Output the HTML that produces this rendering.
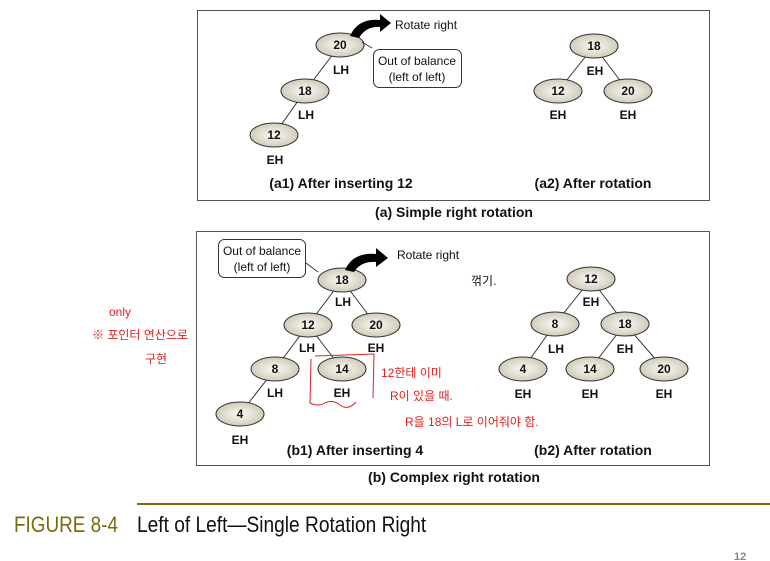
<!DOCTYPE html>
<html><head><meta charset="utf-8"><style>
html,body{margin:0;padding:0;background:#fff;}
svg{display:block;}
.n{font-family:"Liberation Sans",sans-serif;font-weight:bold;font-size:12px;text-anchor:middle;fill:#111;}
.c{font-family:"Liberation Sans",sans-serif;font-weight:bold;font-size:14px;text-anchor:middle;fill:#111;}
.t{font-family:"Liberation Sans",sans-serif;font-size:12px;fill:#111;}
.r{font-family:"Liberation Sans","Noto Sans CJK KR",sans-serif;font-size:12px;fill:#e02020;}
</style></head><body>
<svg width="770" height="561" viewBox="0 0 770 561">
<defs><radialGradient id="g" cx="50%" cy="50%" r="60%"><stop offset="0" stop-color="#fbfaf5"/><stop offset="1" stop-color="#c8c2ae"/></radialGradient></defs>
<rect x="197.5" y="10.5" width="512" height="190" fill="none" stroke="#555"/>
<rect x="196.5" y="231.5" width="513" height="234" fill="none" stroke="#555"/>
<g stroke="#333" stroke-width="1">
<line x1="340" y1="45" x2="305" y2="91"/><line x1="305" y1="91" x2="274" y2="135"/>
<line x1="594" y1="46" x2="558" y2="91"/><line x1="594" y1="46" x2="628" y2="91"/>
<line x1="342" y1="280" x2="308" y2="325"/><line x1="342" y1="280" x2="376" y2="325"/>
<line x1="308" y1="325" x2="275" y2="369"/><line x1="308" y1="325" x2="342" y2="369"/>
<line x1="275" y1="369" x2="240" y2="414"/>
<line x1="591" y1="279" x2="555" y2="324"/><line x1="591" y1="279" x2="625" y2="324"/>
<line x1="555" y1="324" x2="523" y2="369"/><line x1="625" y1="324" x2="590" y2="369"/><line x1="625" y1="324" x2="664" y2="369"/>
</g>
<g fill="url(#g)" stroke="#333">
<ellipse cx="340" cy="45" rx="24" ry="12"/><ellipse cx="305" cy="91" rx="24" ry="12"/><ellipse cx="274" cy="135" rx="24" ry="12"/>
<ellipse cx="594" cy="46" rx="24" ry="12"/><ellipse cx="558" cy="91" rx="24" ry="12"/><ellipse cx="628" cy="91" rx="24" ry="12"/>
<ellipse cx="342" cy="280" rx="24" ry="12"/><ellipse cx="308" cy="325" rx="24" ry="12"/><ellipse cx="376" cy="325" rx="24" ry="12"/>
<ellipse cx="275" cy="369" rx="24" ry="12"/><ellipse cx="342" cy="369" rx="24" ry="12"/><ellipse cx="240" cy="414" rx="24" ry="12"/>
<ellipse cx="591" cy="279" rx="24" ry="12"/><ellipse cx="555" cy="324" rx="24" ry="12"/><ellipse cx="625" cy="324" rx="24" ry="12"/>
<ellipse cx="523" cy="369" rx="24" ry="12"/><ellipse cx="590" cy="369" rx="24" ry="12"/><ellipse cx="664" cy="369" rx="24" ry="12"/>
</g>
<g class="n">
<text x="340" y="49">20</text><text x="305" y="95">18</text><text x="274" y="139">12</text>
<text x="341" y="74">LH</text><text x="306" y="119">LH</text><text x="275" y="164">EH</text>
<text x="594" y="50">18</text><text x="558" y="95">12</text><text x="628" y="95">20</text>
<text x="595" y="75">EH</text><text x="558" y="119">EH</text><text x="628" y="119">EH</text>
<text x="342" y="284">18</text><text x="308" y="329">12</text><text x="376" y="329">20</text>
<text x="275" y="373">8</text><text x="342" y="373">14</text><text x="240" y="418">4</text>
<text x="343" y="306">LH</text><text x="307" y="352">LH</text><text x="376" y="352">EH</text>
<text x="275" y="397">LH</text><text x="342" y="397">EH</text><text x="240" y="444">EH</text>
<text x="591" y="283">12</text><text x="555" y="328">8</text><text x="625" y="328">18</text>
<text x="523" y="373">4</text><text x="590" y="373">14</text><text x="664" y="373">20</text>
<text x="591" y="306">EH</text><text x="556" y="353">LH</text><text x="625" y="353">EH</text>
<text x="523" y="398">EH</text><text x="590" y="398">EH</text><text x="664" y="398">EH</text>
</g>
<path d="M350 36 Q358 18 380 20 L380 14 L391 23 L380 32 L380 27 Q366 26 359 38 Z" fill="#000"/>
<text class="t" x="395" y="29">Rotate right</text>
<path d="M345 270 Q353 252 376 254 L376 248 L388 258 L376 267 L376 262 Q361 261 354 272 Z" fill="#000"/>
<text class="t" x="397" y="259">Rotate right</text>
<path d="M372 48 L362 42" stroke="#333" fill="none"/>
<rect x="373.5" y="49.5" width="88" height="38" rx="6" fill="#fff" stroke="#333"/>
<text class="t" x="417" y="65" text-anchor="middle">Out of balance</text>
<text class="t" x="417" y="81" text-anchor="middle">(left of left)</text>
<path d="M306 263 L318 272" stroke="#333" fill="none"/>
<rect x="218.5" y="239.5" width="87" height="38" rx="6" fill="#fff" stroke="#333"/>
<text class="t" x="262" y="255" text-anchor="middle">Out of balance</text>
<text class="t" x="262" y="271" text-anchor="middle">(left of left)</text>
<g class="c">
<text x="341" y="188">(a1) After inserting 12</text>
<text x="593" y="188">(a2) After rotation</text>
<text x="454" y="217">(a) Simple right rotation</text>
<text x="355" y="455">(b1) After inserting 4</text>
<text x="593" y="455">(b2) After rotation</text>
<text x="454" y="482">(b) Complex right rotation</text>
</g>
<path d="M315 356 L374 354 L373 398 M311 359 L310 403 Q318 407 325 403 T340 405 T356 402" stroke="#e02020" fill="none"/>
<text class="r" x="381" y="377">12한테 이미</text>
<text class="r" x="390" y="400">R이 있을 때.</text>
<text class="r" x="405" y="426">R을 18의 L로 이어줘야 함.</text>
<text class="r" x="109" y="316">only</text>
<text class="r" x="92" y="339">※ 포인터 연산으로</text>
<text class="r" x="145" y="363">구현</text>
<text x="471" y="285" font-family="Liberation Sans,Noto Sans CJK KR,sans-serif" font-size="12" fill="#111">꺾기.</text>
<line x1="137" y1="504" x2="770" y2="504" stroke="#7a6a10" stroke-width="2"/>
<text x="14" y="532" font-family="Liberation Sans,sans-serif" font-size="22" fill="#7a6a10" transform="translate(14 0) scale(0.86 1) translate(-14 0)">FIGURE 8-4</text>
<text x="137" y="532" font-family="Liberation Sans,sans-serif" font-size="22" fill="#111" transform="translate(137 0) scale(0.87 1) translate(-137 0)">Left of Left—Single Rotation Right</text>
<text x="734" y="560" font-family="Liberation Sans,sans-serif" font-size="11" font-weight="bold" fill="#888">12</text>
</svg>
</body></html>
